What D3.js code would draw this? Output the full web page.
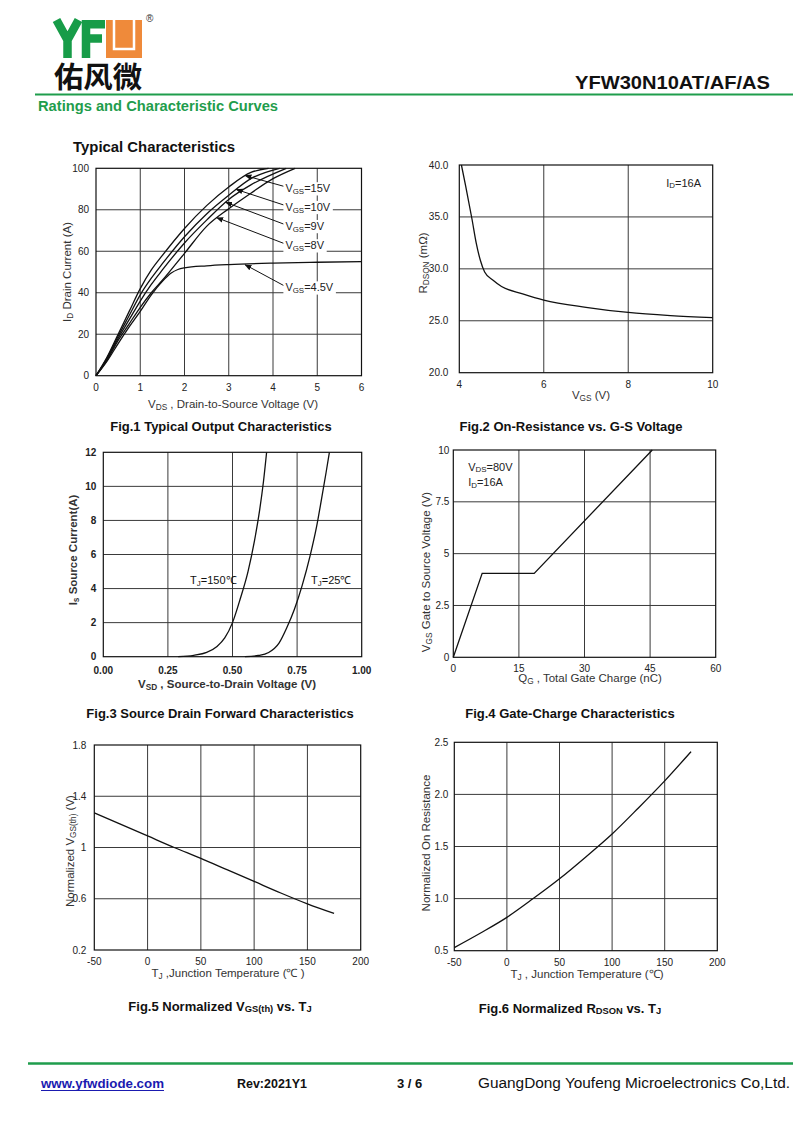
<!DOCTYPE html>
<html>
<head>
<meta charset="utf-8">
<script src="https://cdn.jsdelivr.net/npm/d3@7"></script>
<style>
  body { margin: 0; background: #fff; }
  svg { display: block; font-family: "Liberation Sans", Arial, sans-serif; }
</style>
</head>
<body>
<svg id="page" width="800" height="1125"></svg>
<script>
// ---- data ----

// Fig.1 output characteristics, [Vds, Id]
const vgs15 = [[0,0],[0.25,9],[0.5,20],[0.75,31],[1,42],[1.25,51],[1.5,58],[2,71],[2.5,82],[3,91],[3.5,98],[3.9,100]]
const vgs10 = [[0,0],[0.25,8.5],[0.5,19],[0.75,29],[1,39],[1.25,47],[1.5,54],[2,67],[2.5,78],[3,87],[3.5,95],[4.15,100]]
const vgs9 = [[0,0],[0.25,8],[0.5,18],[0.75,27],[1,36],[1.25,44],[1.5,51],[2,64],[2.5,75],[3,85],[3.5,92],[4.3,100]]
const vgs8 = [[0,0],[0.25,7.5],[0.5,17],[0.75,25],[1,33],[1.25,40],[1.5,46],[2,59],[2.5,72],[3,80.5],[3.5,88],[4,95],[4.5,100]]
const vgs45 = [[0,0],[0.25,7],[0.5,15.5],[0.75,23.5],[1,31],[1.25,39],[1.5,45.5],[1.7,49.5],[1.85,51.2],[2,52],[2.5,53],[3,53.6],[4,54.3],[5,54.7],[6,55]]
const fig1Labels = ['15V', '10V', '9V', '8V', '4.5V']
const fig1LabelAt = [[4.28,90.4],[4.28,81.4],[4.28,72.2],[4.28,62.9],[4.28,42.6]]
const fig1ArrowTo = [[3.37,96.5],[3.17,89.8],[2.93,83.6],[2.73,76.2],[3.37,53.5]]

// Fig.2 on-resistance vs Vgs, [Vgs, Rdson]
const rdsonVgs = [[4.05,40],[4.15,38],[4.3,34.8],[4.4,32.5],[4.5,30.8],[4.6,29.7],[4.8,28.9],[5,28.3],[5.5,27.6],[6,27.0],[7,26.3],[8,25.8],[9,25.5],[10,25.3]]

// Fig.3 body diode, [Vsd, Is]
const diode150 = [[0.29,0],[0.35,0.08],[0.4,0.25],[0.44,0.6],[0.47,1.1],[0.5,2.0],[0.53,3.4],[0.56,5.0],[0.585,6.8],[0.605,8.6],[0.62,10.3],[0.632,12]]
const diode25 = [[0.548,0],[0.6,0.07],[0.64,0.25],[0.68,0.8],[0.71,1.7],[0.74,2.8],[0.77,4.2],[0.8,5.9],[0.825,7.6],[0.845,9.3],[0.862,10.8],[0.875,12]]

// Fig.4 gate charge, [Qg, Vgs]
const gateCharge = [[0,0],[6.6,4.05],[18.5,4.05],[45.5,10]]

// Fig.5 / Fig.6 vs junction temperature
const vthTemp = [[-50,1.27],[-25,1.18],[0,1.09],[25,1.0],[50,0.915],[75,0.825],[100,0.735],[125,0.645],[150,0.56],[175,0.485]]
const rdsonTemp = [[-50,0.53],[-25,0.67],[0,0.82],[25,1.0],[50,1.19],[75,1.4],[100,1.62],[125,1.87],[150,2.13],[175,2.41]]

// tick values
const fig1X = [0,1,2,3,4,5,6], fig1Y = [0,20,40,60,80,100]
const fig2X = [4,6,8,10], fig2Y = [20,25,30,35,40]
const fig3X = [0,0.25,0.5,0.75,1], fig3Y = [0,2,4,6,8,10,12]
const fig4X = [0,15,30,45,60], fig4Y = [0,2.5,5,7.5,10]
const fig5X = [-50,0,50,100,150,200], fig5Y = [0.2,0.6,1,1.4,1.8]
const fig6X = [-50,0,50,100,150,200], fig6Y = [0.5,1.0,1.5,2.0,2.5]

const svg = d3.select('#page')
const GREEN = '#1f9d4c'
const locale = d3.formatLocale({ decimal: '.', thousands: ',', grouping: [3], currency: ['', ''], minus: '-' })

// text with "_xx" parts rendered as subscripts
const richText = (parent, parts, attrs) => {
  const t = parent.append('text')
  Object.entries(attrs).forEach(([k, v]) => t.attr(k, v))
  const size = +attrs['font-size'] || 11
  let down = false
  parts.forEach((p) => {
    const sub = p.startsWith('_')
    const ts = t.append('tspan').text(sub ? p.slice(1) : p)
    if (sub) ts.attr('font-size', size * 0.72)
    if (sub && !down) { ts.attr('dy', size * 0.25); down = true }
    if (!sub && down) { ts.attr('dy', -size * 0.25); down = false }
  })
  return t
}

const panel = (opts) => {
  const { box, xDomain, yDomain, xTicks, yTicks, xFmt, yFmt, bold, yPad, xPad } = opts
  const x = d3.scaleLinear().domain(xDomain).range([box.x0, box.x1])
  const y = d3.scaleLinear().domain(yDomain).range([box.y1, box.y0])
  const g = svg.append('g')

  g.selectAll('.vgrid').data(xTicks.slice(1, -1)).enter().append('line')
    .attr('x1', (d) => x(d)).attr('x2', (d) => x(d))
    .attr('y1', box.y0).attr('y2', box.y1)
    .style('stroke', '#3a3a3a').style('stroke-width', 1)
  g.selectAll('.hgrid').data(yTicks.slice(1, -1)).enter().append('line')
    .attr('x1', box.x0).attr('x2', box.x1)
    .attr('y1', (d) => y(d)).attr('y2', (d) => y(d))
    .style('stroke', '#3a3a3a').style('stroke-width', 1)
  g.append('rect')
    .attr('x', box.x0).attr('y', box.y0)
    .attr('width', box.x1 - box.x0).attr('height', box.y1 - box.y0)
    .style('fill', 'none').style('stroke', '#111').style('stroke-width', 1.2)

  g.selectAll('.xtick').data(xTicks).enter().append('text')
    .attr('x', (d) => x(d)).attr('y', box.y1 + xPad)
    .attr('text-anchor', 'middle').attr('dominant-baseline', 'central')
    .attr('font-size', 10).attr('font-weight', bold ? 'bold' : 'normal')
    .style('fill', '#222')
    .text((d) => locale.format(xFmt)(d))
  g.selectAll('.ytick').data(yTicks).enter().append('text')
    .attr('x', box.x0 - yPad).attr('y', (d) => y(d))
    .attr('text-anchor', 'end').attr('dominant-baseline', 'central')
    .attr('font-size', 10).attr('font-weight', bold ? 'bold' : 'normal')
    .style('fill', '#222')
    .text((d) => locale.format(yFmt)(d))

  return { g, x, y }
}

const drawCurve = (p, data, curve) => {
  const line = d3.line().x((d) => p.x(d[0])).y((d) => p.y(d[1])).curve(curve || d3.curveMonotoneX)
  p.g.append('path').datum(data).attr('d', line)
    .style('fill', 'none').style('stroke', '#111').style('stroke-width', 1.3)
}

const yLabel = (p, parts, cx, cy, bold) => {
  richText(p.g, parts, {
    transform: `translate(${cx},${cy}) rotate(-90)`,
    'text-anchor': 'middle', 'dominant-baseline': 'central',
    'font-size': 11.5, 'font-weight': bold ? 'bold' : 'normal', fill: '#333',
  })
}
const xLabel = (p, parts, cx, cy, bold) => {
  richText(p.g, parts, {
    x: cx, y: cy, 'text-anchor': 'middle', 'dominant-baseline': 'central',
    'font-size': 11.5, 'font-weight': bold ? 'bold' : 'normal', fill: '#333',
  })
}
const caption = (parts, cx, cy) => {
  richText(svg, parts, {
    x: cx, y: cy, 'text-anchor': 'middle', 'dominant-baseline': 'central',
    'font-size': 13, 'font-weight': 'bold', fill: '#111',
  })
}

// ---- header (logo drawn as shapes) ----
svg.append('path').attr('d', 'M56.5,20 L67.5,40 L78.5,20 M67.5,38 V58')
  .style('fill', 'none').style('stroke', '#179c48').style('stroke-width', 8.5)
svg.append('path').attr('d', 'M86,58 V24.2 H105 M86,38.5 H102')
  .style('fill', 'none').style('stroke', '#179c48').style('stroke-width', 8.5)
svg.append('rect').attr('x', 106).attr('y', 20).attr('width', 36).attr('height', 38).style('fill', '#ef8a3a')
svg.append('path').attr('d', 'M114,20 V49 H134 V20')
  .style('fill', 'none').style('stroke', '#fff').style('stroke-width', 2.5)
svg.append('text').attr('x', 146).attr('y', 22).attr('font-size', 10).style('fill', '#333').text('®')
svg.append('text').attr('x', 54).attr('y', 88).attr('font-size', 29).attr('font-weight', 'bold')
  .attr('textLength', 88).attr('lengthAdjust', 'spacingAndGlyphs')
  .style('font-family', '"Noto Sans CJK SC", sans-serif').style('fill', '#111').text('佑风微')
svg.append('text').attr('x', 770).attr('y', 89).attr('text-anchor', 'end').attr('font-size', 18)
  .attr('font-weight', 'bold').attr('textLength', 195).attr('lengthAdjust', 'spacingAndGlyphs')
  .style('fill', '#111').text('YFW30N10AT/AF/AS')
svg.append('line').attr('x1', 35).attr('x2', 793).attr('y1', 94.5).attr('y2', 94.5)
  .style('stroke', GREEN).style('stroke-width', 2)
svg.append('text').attr('x', 38).attr('y', 111).attr('font-size', 14).attr('font-weight', 'bold')
  .attr('textLength', 240).attr('lengthAdjust', 'spacingAndGlyphs')
  .style('fill', GREEN).text('Ratings and Characteristic Curves')
svg.append('text').attr('x', 73).attr('y', 152).attr('font-size', 14).attr('font-weight', 'bold')
  .attr('textLength', 162).attr('lengthAdjust', 'spacingAndGlyphs')
  .style('fill', '#111').text('Typical Characteristics')

// arrow marker
svg.append('defs').append('marker')
  .attr('id', 'arrow').attr('viewBox', '0 0 10 10').attr('refX', 9).attr('refY', 5)
  .attr('markerWidth', 7).attr('markerHeight', 7).attr('orient', 'auto')
  .append('path').attr('d', 'M0,1 L10,5 L0,9 Z').style('fill', '#111')

// ---- Fig.1 ----
const p1 = panel({ box: { x0: 96, x1: 361.5, y0: 168.3, y1: 375.7 }, xDomain: [0, 6], yDomain: [0, 100],
  xTicks: fig1X, yTicks: fig1Y, xFmt: 'd', yFmt: 'd', yPad: 7, xPad: 12 })
;[vgs15, vgs10, vgs9, vgs8, vgs45].forEach((c) => drawCurve(p1, c))
fig1Labels.forEach((lab, i) => {
  const [lx, ly] = fig1LabelAt[i]
  const [ax, ay] = fig1ArrowTo[i]
  const t = richText(p1.g, ['V', '_GS', '=' + lab], {
    x: p1.x(lx), y: p1.y(ly), 'dominant-baseline': 'central', 'font-size': 11, fill: '#222',
  })
  const bb = t.node().getBBox()
  p1.g.insert('rect', 'text').attr('x', bb.x - 2).attr('y', bb.y).attr('width', bb.width + 4)
    .attr('height', bb.height).style('fill', '#fff')
  p1.g.append('line').attr('x1', p1.x(lx) - 2).attr('y1', p1.y(ly) - 2)
    .attr('x2', p1.x(ax)).attr('y2', p1.y(ay))
    .style('stroke', '#111').style('stroke-width', 1).attr('marker-end', 'url(#arrow)')
})
yLabel(p1, ['I', '_D', ' Drain Current (A)'], 67, 272)
xLabel(p1, ['V', '_DS', '  , Drain-to-Source Voltage (V)'], 233, 404)
caption(['Fig.1 Typical Output Characteristics'], 221, 426)

// ---- Fig.2 ----
const p2 = panel({ box: { x0: 459.3, x1: 712.7, y0: 165, y1: 372.7 }, xDomain: [4, 10], yDomain: [20, 40],
  xTicks: fig2X, yTicks: fig2Y, xFmt: 'd', yFmt: '.1f', yPad: 11, xPad: 12 })
drawCurve(p2, rdsonVgs)
richText(p2.g, ['I', '_D', '=16A'], { x: p2.x(8.9), y: p2.y(38.3), 'dominant-baseline': 'central', 'font-size': 11, fill: '#222' })
yLabel(p2, ['R', '_DSON', ' (mΩ)'], 423, 263)
xLabel(p2, ['V', '_GS', ' (V)'], 591, 395)
caption(['Fig.2 On-Resistance vs. G-S Voltage'], 571, 426)

// ---- Fig.3 ----
const p3 = panel({ box: { x0: 103.3, x1: 361.7, y0: 452.3, y1: 656.7 }, xDomain: [0, 1], yDomain: [0, 12],
  xTicks: fig3X, yTicks: fig3Y, xFmt: '.2f', yFmt: 'd', bold: true, yPad: 7, xPad: 13.5 })
drawCurve(p3, diode150)
drawCurve(p3, diode25)
richText(p3.g, ['T', '_J', '=150℃'], { x: p3.x(0.336), y: p3.y(4.5), 'dominant-baseline': 'central', 'font-size': 11, fill: '#111' })
richText(p3.g, ['T', '_J', '=25℃'], { x: p3.x(0.804), y: p3.y(4.5), 'dominant-baseline': 'central', 'font-size': 11, fill: '#111' })
yLabel(p3, ['I', '_s', ' Source Current(A)'], 73, 550, true)
xLabel(p3, ['V', '_SD', ' , Source-to-Drain Voltage (V)'], 227, 684, true)
caption(['Fig.3 Source Drain Forward Characteristics'], 220, 713)

// ---- Fig.4 ----
const p4 = panel({ box: { x0: 453.3, x1: 715.7, y0: 450, y1: 657.3 }, xDomain: [0, 60], yDomain: [0, 10],
  xTicks: fig4X, yTicks: fig4Y, xFmt: 'd', yFmt: '~g', yPad: 4, xPad: 11 })
drawCurve(p4, gateCharge, d3.curveLinear)
richText(p4.g, ['V', '_DS', '=80V'], { x: p4.x(3.4), y: p4.y(9.2), 'dominant-baseline': 'central', 'font-size': 11, fill: '#222' })
richText(p4.g, ['I', '_D', '=16A'], { x: p4.x(3.4), y: p4.y(8.45), 'dominant-baseline': 'central', 'font-size': 11, fill: '#222' })
yLabel(p4, ['V', '_GS', '    Gate to Source Voltage (V)'], 426, 572)
xLabel(p4, ['Q', '_G', ' , Total Gate Charge (nC)'], 590, 678)
caption(['Fig.4 Gate-Charge Characteristics'], 570, 713)

// ---- Fig.5 ----
const p5 = panel({ box: { x0: 94.3, x1: 360.7, y0: 745, y1: 950 }, xDomain: [-50, 200], yDomain: [0.2, 1.8],
  xTicks: fig5X, yTicks: fig5Y, xFmt: 'd', yFmt: '~g', yPad: 8, xPad: 11 })
drawCurve(p5, vthTemp)
yLabel(p5, ['Normalized V', '_GS(th)', ' (V)'], 70, 851)
xLabel(p5, ['T', '_J', ' ,Junction Temperature (℃ )'], 228, 973)
caption(['Fig.5 Normalized V', '_GS(th)', ' vs. T', '_J'], 220, 1006)

// ---- Fig.6 ----
const p6 = panel({ box: { x0: 454.3, x1: 717.3, y0: 742.3, y1: 950.7 }, xDomain: [-50, 200], yDomain: [0.5, 2.5],
  xTicks: fig6X, yTicks: fig6Y, xFmt: 'd', yFmt: '.1f', yPad: 6, xPad: 12 })
drawCurve(p6, rdsonTemp)
yLabel(p6, ['Normalized On Resistance'], 426, 843)
xLabel(p6, ['T', '_J', ' , Junction Temperature (℃)'], 587, 974)
caption(['Fig.6 Normalized R', '_DSON', ' vs. T', '_J'], 570, 1008)

// ---- footer ----
svg.append('line').attr('x1', 28).attr('x2', 793).attr('y1', 1063.5).attr('y2', 1063.5)
  .style('stroke', GREEN).style('stroke-width', 2.5)
svg.append('text').attr('x', 41).attr('y', 1088).attr('font-size', 13).attr('font-weight', 'bold')
  .attr('textLength', 123).attr('lengthAdjust', 'spacingAndGlyphs')
  .style('fill', '#1a1ab0').text('www.yfwdiode.com')
svg.append('line').attr('x1', 41).attr('x2', 164).attr('y1', 1090.5).attr('y2', 1090.5)
  .style('stroke', '#1a1ab0').style('stroke-width', 1)
svg.append('text').attr('x', 237).attr('y', 1088).attr('font-size', 13).attr('font-weight', 'bold')
  .attr('textLength', 70).attr('lengthAdjust', 'spacingAndGlyphs').style('fill', '#111').text('Rev:2021Y1')
svg.append('text').attr('x', 397).attr('y', 1088).attr('font-size', 13).attr('font-weight', 'bold')
  .style('fill', '#111').text('3 / 6')
svg.append('text').attr('x', 478).attr('y', 1088).attr('font-size', 14)
  .attr('textLength', 312).attr('lengthAdjust', 'spacingAndGlyphs')
  .style('fill', '#111').text('GuangDong Youfeng Microelectronics Co,Ltd.')
</script>
</body>
</html>
